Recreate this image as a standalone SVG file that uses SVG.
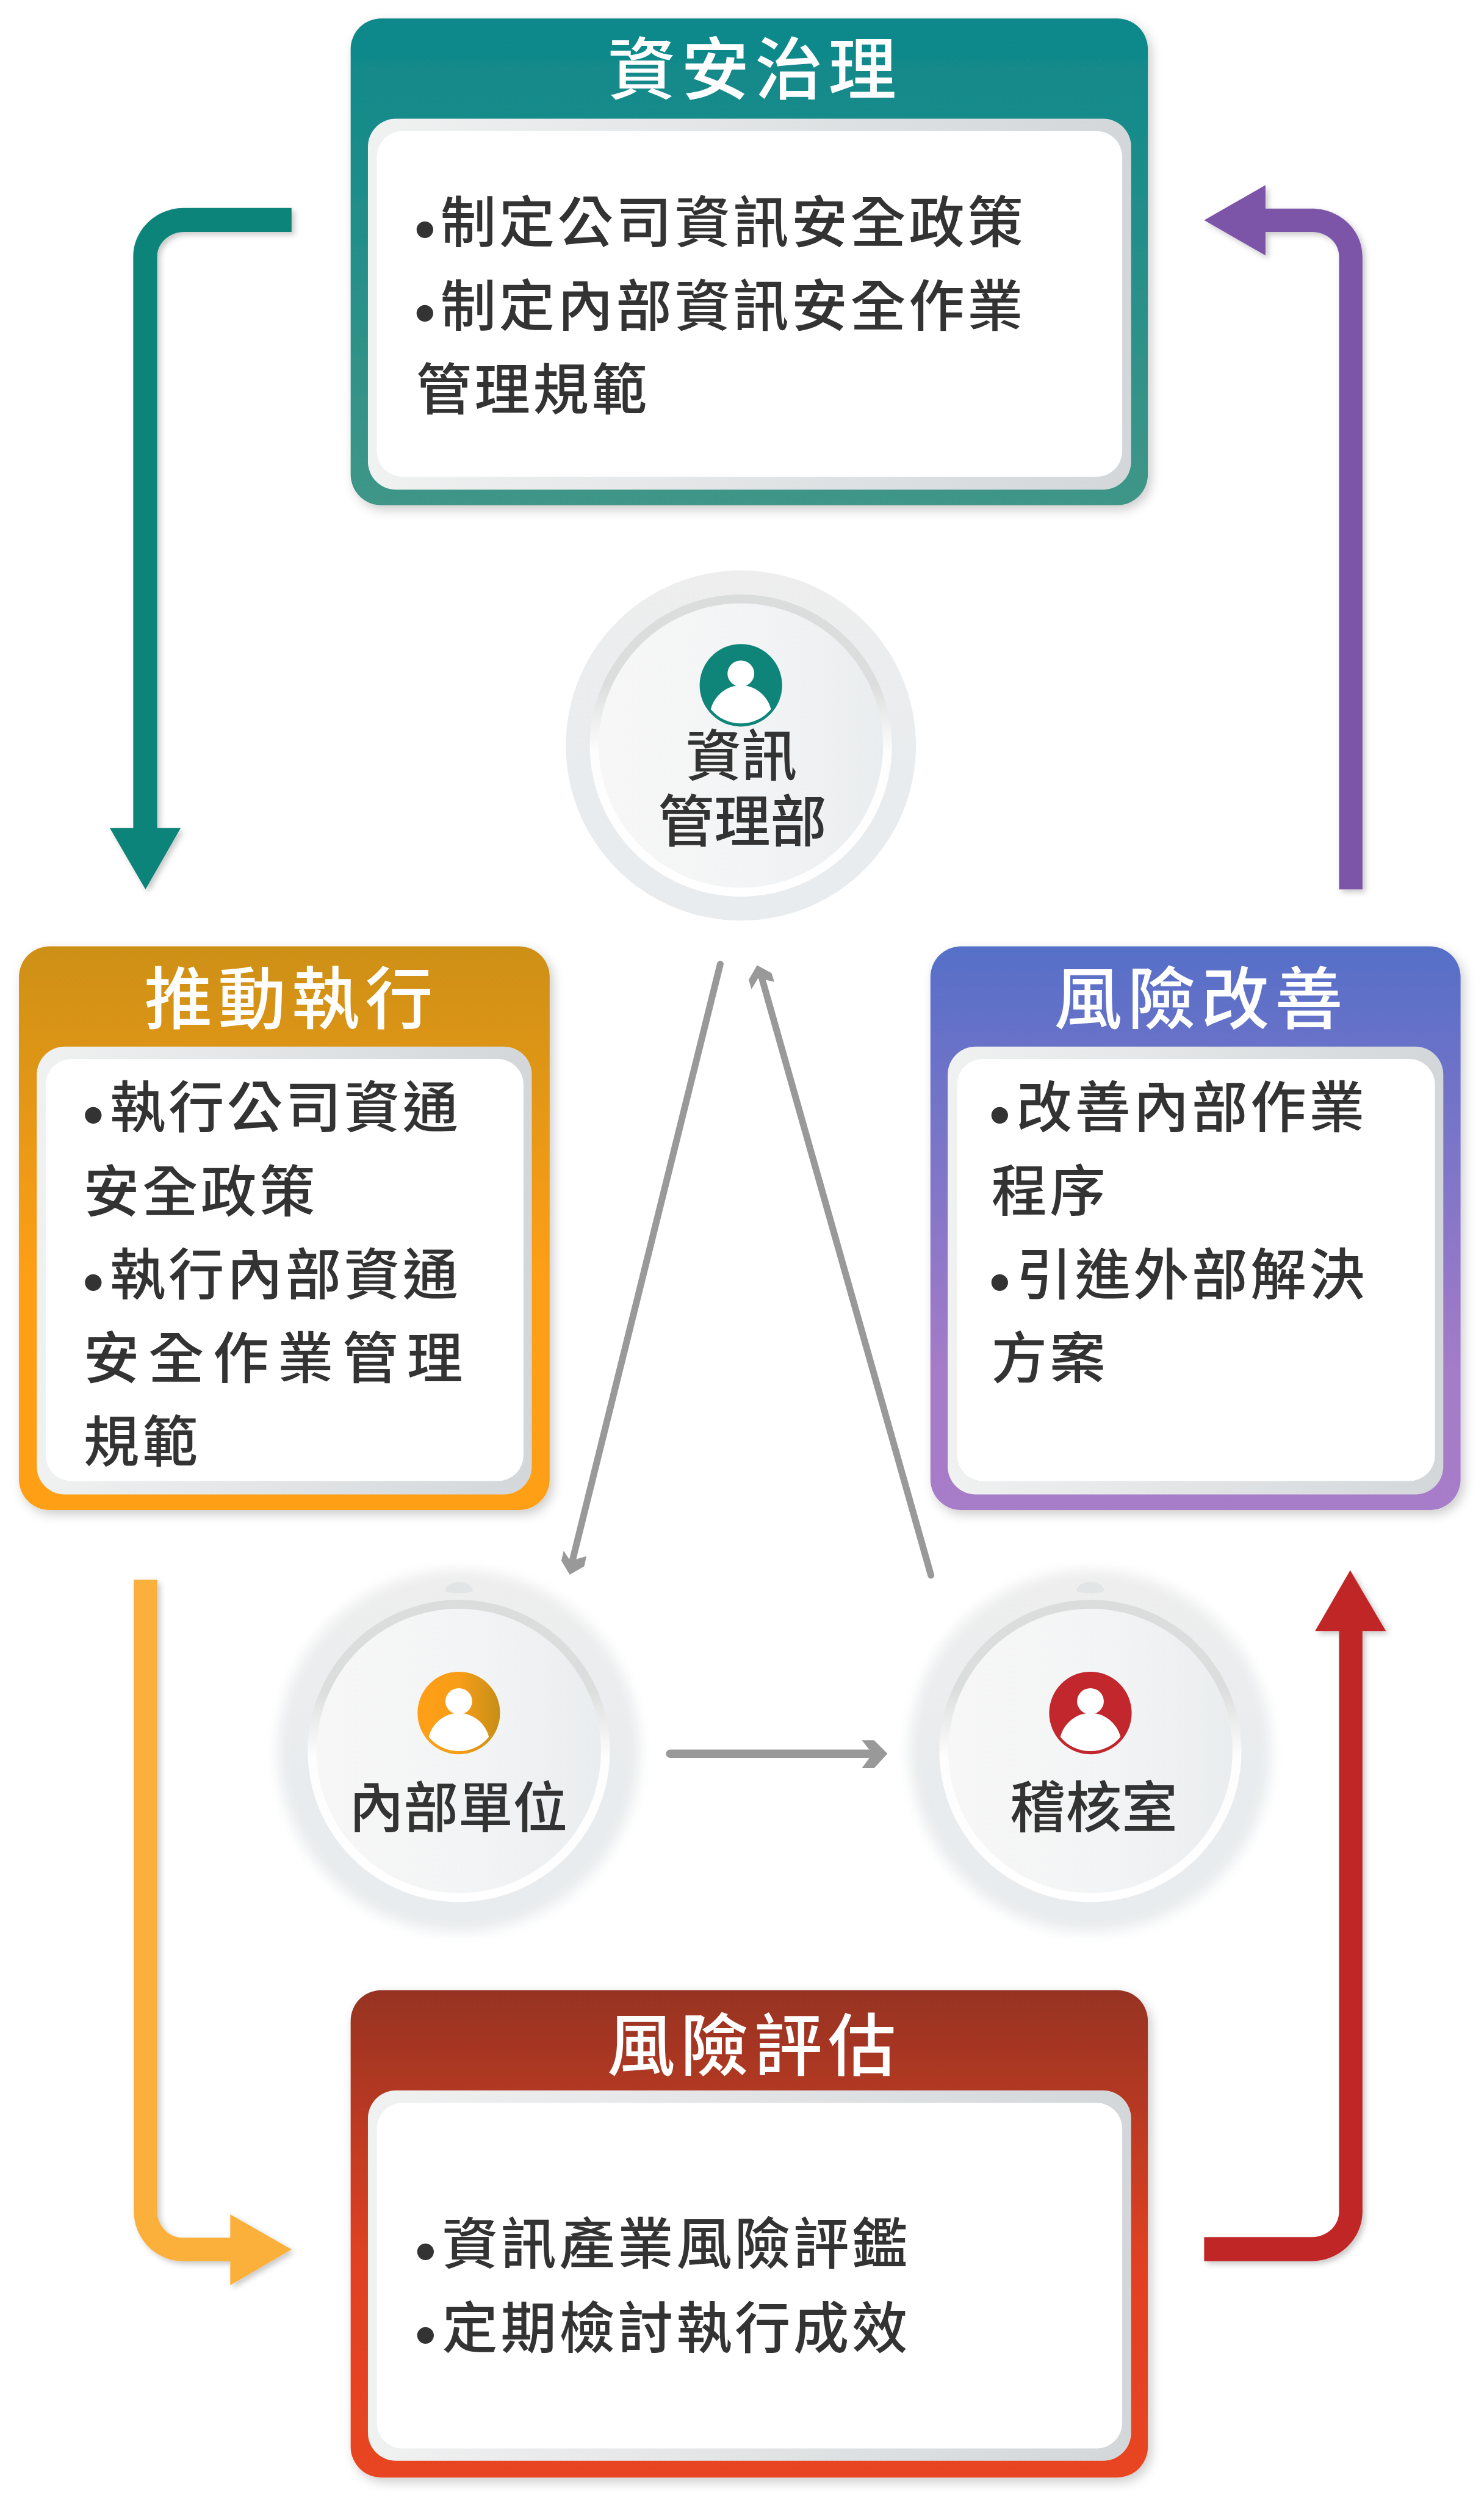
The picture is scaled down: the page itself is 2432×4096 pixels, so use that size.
<svg xmlns="http://www.w3.org/2000/svg" xmlns:xlink="http://www.w3.org/1999/xlink" width="2432" height="4096" viewBox="0 0 2432 4096">
<style>
text{font-family:"Noto Sans CJK TC","Noto Sans CJK SC",sans-serif;font-weight:500;}
.b{font-size:100px;fill:#333;letter-spacing:5px;}
.t{font-size:122px;fill:#fff;letter-spacing:10px;}
.c{font-size:100px;fill:#333;}
.d{font-family:"Liberation Sans",sans-serif;font-size:110px;letter-spacing:0;}
.g{stroke:#999;stroke-width:12;stroke-linecap:round;fill:none;}
.h{fill:#999;}
.in{fill:url(#inner);}
.wh{fill:#fff;}
</style>
<defs>
<linearGradient id="teal" x1="0" y1="0" x2="0" y2="1"><stop offset="0" stop-color="#0d888b"/><stop offset="1" stop-color="#3f9687"/></linearGradient>
<linearGradient id="amber" x1="0" y1="0" x2="0" y2="1"><stop offset="0" stop-color="#cd9013"/><stop offset="0.6" stop-color="#ff9f17"/><stop offset="1" stop-color="#ff9f17"/></linearGradient>
<linearGradient id="violet" x1="0" y1="0" x2="0" y2="1"><stop offset="0" stop-color="#566fc8"/><stop offset="0.75" stop-color="#a47bc8"/><stop offset="1" stop-color="#a77bc8"/></linearGradient>
<linearGradient id="rust" x1="0" y1="0" x2="0" y2="1"><stop offset="0" stop-color="#963321"/><stop offset="0.55" stop-color="#e04120"/><stop offset="1" stop-color="#e84522"/></linearGradient>
<linearGradient id="inner" x1="0" y1="0" x2="1" y2="0"><stop offset="0" stop-color="#f0f1f1"/><stop offset="1" stop-color="#d3d7da"/></linearGradient>
<linearGradient id="disc" x1="0" y1="0" x2="0" y2="1"><stop offset="0" stop-color="#eeeeee"/><stop offset="0.55" stop-color="#e9ecee"/><stop offset="1" stop-color="#e9ecee"/></linearGradient>
<linearGradient id="ring" x1="0" y1="0" x2="0" y2="1"><stop offset="0" stop-color="#dbdddc"/><stop offset="0.3" stop-color="#dcdedd"/><stop offset="0.52" stop-color="#fdfdfd"/><stop offset="1" stop-color="#ffffff"/></linearGradient>
<linearGradient id="face" x1="0" y1="0" x2="1" y2="0"><stop offset="0" stop-color="#f7f7f7"/><stop offset="0.55" stop-color="#f3f4f5"/><stop offset="1" stop-color="#eaedef"/></linearGradient>
<linearGradient id="oicon" x1="0" y1="0" x2="1" y2="0"><stop offset="0" stop-color="#ff9f17"/><stop offset="0.5" stop-color="#f89d17"/><stop offset="1" stop-color="#c68e17"/></linearGradient>
<filter id="sh" x="-10%" y="-10%" width="120%" height="120%"><feDropShadow dx="6" dy="8" stdDeviation="10" flood-color="#000" flood-opacity="0.2"/></filter>
<filter id="ash" x="-30%" y="-10%" width="160%" height="120%"><feDropShadow dx="5" dy="5" stdDeviation="5" flood-color="#000" flood-opacity="0.22"/></filter>
<filter id="halo" x="-20%" y="-20%" width="140%" height="140%"><feGaussianBlur stdDeviation="11"/></filter>
<g id="person"><ellipse cx="0" cy="-21" rx="24" ry="23.500" fill="#fff"/><path d="M-54,43 C-48,20 -30,5 -10,1 L10,1 C30,5 48,20 54,43 A70,70 0 0 1 -54,43 Z" fill="#fff"/></g>
</defs>
<rect width="2432" height="4096" fill="#fff"/>
<g transform="scale(0.9136)">
<g id="connectors">
<path id="arrow-teal" filter="url(#ash)" fill="#0f8479" d="M523,373 H330 C280,373 239,412 239,460 V1485 H197 L261,1595 L324,1485 H282 V460 C282,435 305,416 330,416 H523 Z"/>
<path id="arrow-purple" filter="url(#ash)" fill="#7d55a8" d="M2160,395 L2270,332 V374 H2353 C2403,374 2444,412 2444,460 V1595 H2402 V460 C2402,435 2380,416 2353,416 H2270 V458 Z"/>
<path id="arrow-red" filter="url(#ash)" fill="#c12728" d="M2422,2816 L2486,2925 H2444 V3966 C2444,4015 2403,4055 2353,4055 H2160 V4012 H2353 C2380,4012 2402,3992 2402,3966 V2925 H2359 Z"/>
<path id="arrow-orange" filter="url(#ash)" fill="#fbb03b" d="M240,2833 H282 V3965 C282,3992 303,4013 328,4013 H413 V3971 L523,4034 L413,4098 V4055 H328 C280,4055 240,4015 240,3965 Z"/>
<line class="g" x1="1292" y1="1729" x2="1026" y2="2802"/>
<polygon class="h" points="1022,2824 1007,2799 1011,2781 1023,2799 1052,2791 1048,2809"/>
<line class="g" x1="1670" y1="2825" x2="1366" y2="1752"/>
<polygon class="h" points="1358,1731 1343,1757 1348,1774 1360,1754 1389,1761 1384,1745"/>
<line class="g" x1="1202" y1="3145" x2="1575" y2="3145" style="stroke-width:15"/>
<polygon class="h" points="1592,3145 1568,3121 1546,3121 1565,3145 1546,3171 1568,3171"/>
</g>

<g id="node-governance">
<rect x="629" y="33" width="1430" height="873" rx="55" fill="url(#teal)" filter="url(#sh)"/>
<rect class="in" x="660" y="213" width="1369" height="665" rx="50"/>
<rect class="wh" x="676" y="235" width="1337" height="620" rx="46"/>
<text class="t" x="1090" y="169">資安治理</text>
<text class="b" y="434"><tspan class="d" x="743" y="449">•</tspan><tspan x="790" y="434">制定公司資訊安全政策</tspan></text>
<text class="b" y="584"><tspan class="d" x="743" y="599">•</tspan><tspan x="790" y="584">制定內部資訊安全作業</tspan></text>
<text class="b" x="746" y="735">管理規範</text>
</g>

<g id="node-execute">
<rect x="34" y="1697" width="952" height="1011" rx="55" fill="url(#amber)" filter="url(#sh)"/>
<rect class="in" x="66" y="1877" width="888" height="803" rx="50"/>
<rect class="wh" x="82" y="1899" width="857" height="757" rx="46"/>
<text class="t" x="259" y="1836">推動執行</text>
<text class="b" y="2022"><tspan class="d" x="148" y="2037">•</tspan><tspan x="197" y="2022">執行公司資通</tspan></text>
<text class="b" x="150" y="2173">安全政策</text>
<text class="b" y="2322"><tspan class="d" x="148" y="2337">•</tspan><tspan x="197" y="2322">執行內部資通</tspan></text>
<text class="b" x="150" y="2472" style="letter-spacing:16px">安全作業管理</text>
<text class="b" x="150" y="2622">規範</text>
</g>

<g id="node-improve">
<rect x="1669" y="1697" width="951" height="1011" rx="55" fill="url(#violet)" filter="url(#sh)"/>
<rect class="in" x="1700" y="1877" width="889" height="803" rx="50"/>
<rect class="wh" x="1717" y="1899" width="857" height="757" rx="46"/>
<text class="t" x="1891" y="1836">風險改善</text>
<text class="b" y="2022"><tspan class="d" x="1774" y="2037">•</tspan><tspan x="1823" y="2022">改善內部作業</tspan></text>
<text class="b" x="1778" y="2172">程序</text>
<text class="b" y="2322"><tspan class="d" x="1774" y="2337">•</tspan><tspan x="1823" y="2322">引進外部解決</tspan></text>
<text class="b" x="1778" y="2472">方案</text>
</g>

<g id="node-assess">
<rect x="629" y="3569" width="1430" height="874" rx="55" fill="url(#rust)" filter="url(#sh)"/>
<rect class="in" x="660" y="3749" width="1369" height="664" rx="50"/>
<rect class="wh" x="676" y="3771" width="1337" height="620" rx="46"/>
<text class="t" x="1089" y="3713">風險評估</text>
<text class="b" y="4060"><tspan class="d" x="744" y="4075">•</tspan><tspan x="793" y="4060">資訊產業風險評鑑</tspan></text>
<text class="b" y="4211"><tspan class="d" x="744" y="4225">•</tspan><tspan x="793" y="4211">定期檢討執行成效</tspan></text>
</g>

<g id="node-infosec">
<circle cx="1329" cy="1337" r="314" fill="url(#disc)"/>
<circle cx="1329" cy="1337" r="271" fill="url(#ring)"/>
<circle cx="1329" cy="1337" r="255" fill="url(#face)"/>
<circle cx="1329" cy="1229" r="74" fill="#0f8479"/>
<use href="#person" x="1329" y="1229"/>
<text class="c" x="1230" y="1391">資訊</text>
<text class="c" x="1180" y="1509" style="font-size:101px">管理部</text>
</g>

<g id="node-internal">
<circle cx="823" cy="3140" r="325" fill="url(#disc)" filter="url(#halo)"/>
<circle cx="823" cy="3140" r="305" fill="url(#disc)"/>
<path d="M798,2852 C800,2842 812,2837 823,2837 C834,2837 846,2842 848,2852 C848,2856 835,2857 823,2857 C811,2857 798,2856 798,2852 Z" fill="#e1e5e6"/>
<circle cx="823" cy="3140" r="271" fill="url(#ring)"/>
<circle cx="823" cy="3140" r="255" fill="url(#face)"/>
<circle cx="823" cy="3072" r="74" fill="url(#oicon)"/>
<use href="#person" x="823" y="3072"/>
<text class="c" x="626" y="3277" style="font-size:98px">內部單位</text>
</g>

<g id="node-audit">
<circle cx="1956" cy="3140" r="325" fill="url(#disc)" filter="url(#halo)"/>
<circle cx="1956" cy="3140" r="305" fill="url(#disc)"/>
<path d="M1931,2852 C1933,2842 1945,2837 1956,2837 C1967,2837 1979,2842 1981,2852 C1981,2856 1968,2857 1956,2857 C1944,2857 1931,2856 1931,2852 Z" fill="#e1e5e6"/>
<circle cx="1956" cy="3140" r="271" fill="url(#ring)"/>
<circle cx="1956" cy="3140" r="255" fill="url(#face)"/>
<circle cx="1956" cy="3072" r="74" fill="#c1272d"/>
<use href="#person" x="1956" y="3072"/>
<text class="c" x="1812" y="3277">稽核室</text>
</g>
</g>
</svg>
